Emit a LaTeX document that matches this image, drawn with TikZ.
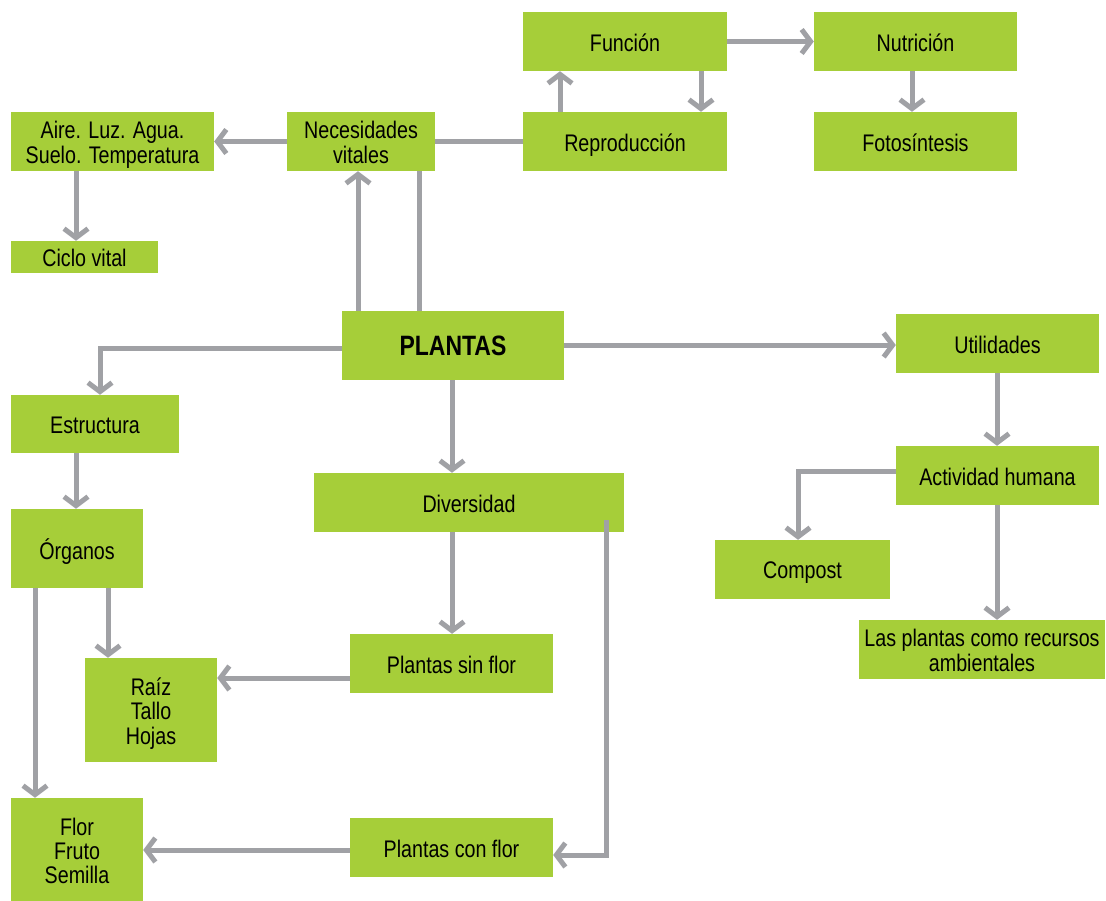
\documentclass[tikz,border=0pt]{standalone}
\usepackage{fontspec}
\setmainfont{Liberation Sans}[FakeStretch=0.82]
\usetikzlibrary{arrows.meta}
\definecolor{boxgreen}{HTML}{A6CE39}
\definecolor{linegray}{HTML}{A0A1A5}
\newcommand\boxtext[1]{\raisebox{0pt}[\dimexpr\height+4.5pt\relax][\dimexpr\depth-4.5pt\relax]{\begin{tabular}{@{}c@{}}#1\end{tabular}}}
\tikzset{
  box/.style={fill=boxgreen, draw=none, inner sep=0pt,
    font=\fontsize{24}{24}\selectfont, text=black},
  link/.style={draw=linegray, line width=5pt},
  arr/.style={link, -{Straight Barb[length=9pt,width=24pt,line width=5pt]}},
}
\begin{document}
\begin{tikzpicture}[x=1pt,y=-1pt]
\useasboundingbox[fill=white] (0,0) rectangle (1106,900);
% nodes
\node[box, minimum width=204pt, minimum height=59pt] (fun) at (625,41.5) {\boxtext{Función}};
\node[box, minimum width=203pt, minimum height=59pt] (nut) at (915.5,41.5) {\boxtext{Nutrición}};
\node[box, minimum width=204pt, minimum height=59pt] (rep) at (625,141.5) {\boxtext{Reproducción}};
\node[box, minimum width=203pt, minimum height=59pt] (foto) at (915.5,141.5) {\boxtext{Fotosíntesis}};
\node[box, minimum width=148pt, minimum height=59pt] (nec) at (361,141.5) {\boxtext{Necesidades\\vitales}};
\node[box, minimum width=203pt, minimum height=59pt] (aire) at (112.5,141.5) {\boxtext{Aire. Luz. Agua.\\Suelo. Temperatura}};
\node[box, minimum width=147pt, minimum height=32pt] (ciclo) at (84.5,257) {\boxtext{Ciclo vital}};
\node[box, minimum width=222pt, minimum height=69pt, font=\fontsize{28}{28}\selectfont\bfseries] (pl) at (453,345.5) {\boxtext{PLANTAS}};
\node[box, minimum width=203pt, minimum height=59pt] (util) at (997.5,343.5) {\boxtext{Utilidades}};
\node[box, minimum width=168pt, minimum height=58pt] (est) at (95,424) {\boxtext{Estructura}};
\node[box, minimum width=310pt, minimum height=59pt] (div) at (469,502.5) {\boxtext{Diversidad}};
\node[box, minimum width=203pt, minimum height=59pt] (act) at (997.5,475.5) {\boxtext{Actividad humana}};
\node[box, minimum width=132pt, minimum height=79pt] (org) at (77,548.5) {\boxtext{Órganos}};
\node[box, minimum width=175pt, minimum height=59pt] (comp) at (802.5,569.5) {\boxtext{Compost}};
\node[box, minimum width=246pt, minimum height=59pt] (rec) at (982,649.5) {\boxtext{Las plantas como recursos\\ambientales}};
\node[box, minimum width=203pt, minimum height=59pt] (sin) at (451.5,663.5) {\boxtext{Plantas sin flor}};
\node[box, minimum width=132pt, minimum height=104pt] (raiz) at (151,710) {\boxtext{Raíz\\Tallo\\Hojas}};
\node[box, minimum width=203pt, minimum height=59pt] (con) at (451.5,847.5) {\boxtext{Plantas con flor}};
\node[box, minimum width=132pt, minimum height=104pt] (flor) at (77,850) {\boxtext{Flor\\Fruto\\Semilla}};
% connectors
\draw[arr] (fun.east) -- (nut.west);
\draw[arr] (560,0 |- rep.north) -- (560,0 |- fun.south);
\draw[arr] (701,0 |- fun.south) -- (701,0 |- rep.north);
\draw[arr] (912,0 |- nut.south) -- (912,0 |- foto.north);
\draw[link] (nec.east) -- (rep.west);
\draw[arr] (nec.west) -- (aire.east);
\draw[arr] (76,0 |- aire.south) -- (76,0 |- ciclo.north);
\draw[arr] (358,0 |- pl.north) -- (358,0 |- nec.south);
\draw[link] (419,0 |- nec.south) -- (419,0 |- pl.north);
\draw[arr] (pl.west |- 0,348) -| (100,0 |- est.north);
\draw[arr] (pl.east |- 0,345) -- (util.west |- 0,345);
\draw[arr] (452,0 |- pl.south) -- (452,0 |- div.north);
\draw[arr] (997,0 |- util.south) -- (997,0 |- act.north);
\draw[arr] (act.west |- 0,471) -| (798,0 |- comp.north);
\draw[arr] (997,0 |- act.south) -- (997,0 |- rec.north);
\draw[arr] (76,0 |- est.south) -- (76,0 |- org.north);
\draw[arr] (108,0 |- org.south) -- (108,0 |- raiz.north);
\draw[arr] (35,0 |- org.south) -- (35,0 |- flor.north);
\draw[arr] (452,0 |- div.south) -- (452,0 |- sin.north);
\draw[arr] (sin.west |- 0,678) -- (raiz.east |- 0,678);
\draw[arr] (606,0 |- div.south) ++(0,-12) |- (con.east |- 0,855);
\draw[arr] (con.west |- 0,850) -- (flor.east |- 0,850);
\end{tikzpicture}
\end{document}
